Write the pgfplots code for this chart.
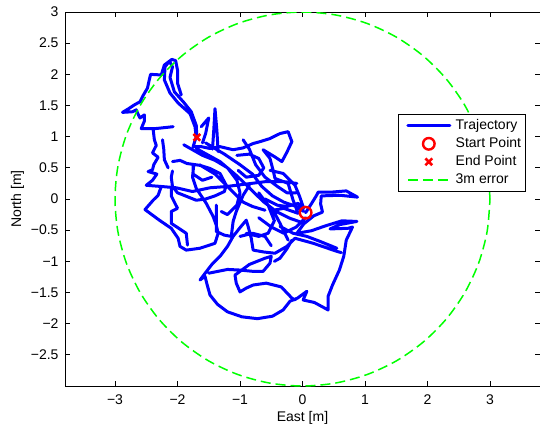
\documentclass[border=0pt]{standalone}
\usepackage{fontspec}
\setmainfont{Liberation Sans}
\usepackage{pgfplots}
\pgfplotsset{compat=1.18}
\definecolor{mblue}{RGB}{0,0,255}
\definecolor{mred}{RGB}{255,0,0}
\definecolor{mgreen}{RGB}{0,255,0}
\begin{document}
\begin{tikzpicture}
\begin{axis}[
  at={(0pt,0pt)}, anchor=south west,
  scale only axis, width=475pt, height=374pt,
  xmin=-3.8, xmax=3.8, ymin=-3, ymax=3,
  xtick={-3,-2,-1,0,1,2,3},
  xticklabels={−3,−2,−1,0,1,2,3},
  ytick={-2.5,-2,-1.5,-1,-0.5,0,0.5,1,1.5,2,2.5,3},
  yticklabels={−2.5,−2,−1.5,−1,−0.5,0,0.5,1,1.5,2,2.5,3},
  tick align=inside, tick pos=both,
  major tick length=5pt,
  every tick/.style={black, line width=0.8pt},
  axis line style={line width=0.8pt},
  tick label style={font=\fontsize{14}{17}\selectfont},
  xticklabel style={yshift=-5pt},
  yticklabel style={xshift=-3pt},
  xlabel={East [m]}, ylabel={North [m]},
  label style={font=\fontsize{14}{17}\selectfont},
  xlabel style={at={(axis description cs:0.5,-0.0936)}, anchor=base},
  ylabel style={at={(axis description cs:-0.0926,0.5)}, anchor=base},
  unbounded coords=jump,
  legend cell align=left,
  legend image code/.code={\path (0pt,0pt); \draw[mark repeat=2,mark phase=2,#1] plot coordinates {(4pt,0pt) (25pt,0pt) (46pt,0pt)};},
  legend style={at={(0.969,0.727)}, anchor=north east, draw=black, fill=white,
    inner xsep=4pt, inner ysep=5pt, font=\fontsize{14}{17}\selectfont, row sep=5pt,
    nodes={inner sep=0pt, text height=10pt, text depth=3pt},
    /tikz/every odd column/.append style={column sep=4.4pt}},
]
\addplot[mblue, line width=3pt, line join=round, line cap=round] coordinates {
(0.05,-0.22) (0.14,-0.08) (0.22,0.05) (0.25,0.11) (0.46,0.11) (0.70,0.13) (0.88,0.03) (0.60,0.06) (0.30,0.05) (0.29,-0.08) (0.32,-0.21) (0.18,-0.27) (0.02,-0.40) (-0.09,-0.55) (0.14,-0.51) (0.37,-0.43) (0.63,-0.35) (0.87,-0.36) (0.60,-0.41) (0.44,-0.48) (0.73,-0.47) (0.80,-0.45) (0.70,-0.66) (0.66,-0.92) (0.59,-1.14) (0.48,-1.38) (0.41,-1.56) (0.41,-1.78) (0.19,-1.66) (0.01,-1.62) (0.07,-1.48) (-0.08,-1.59) (-0.20,-1.64) (-0.31,-1.78) (-0.48,-1.88) (-0.72,-1.92) (-0.97,-1.89) (-1.20,-1.81) (-1.36,-1.69) (-1.48,-1.54) (-1.53,-1.36) (-1.56,-1.24) (-1.64,-1.30) (-1.55,-1.18) (-1.45,-1.05) (-1.32,-0.92) (-1.20,-0.76) (-1.11,-0.60) (-1.00,-0.46) (-0.90,-0.34) (-0.87,-0.44) (-0.82,-0.63) (-0.79,-0.82) (-0.62,-0.85) (-0.44,-0.87) (-0.25,-0.76) (-0.12,-0.63) (0.17,-0.71) (0.55,-0.84) (0.62,-0.86)
(nan,nan)
(-1.50,-1.19) (-1.20,-1.13) (-1.00,-1.14) (-0.80,-1.16) (-0.63,-1.16) (-0.52,-1.03) (-0.50,-0.92) (-0.60,-0.95) (-0.85,-1.05) (-1.08,-1.22) (-1.06,-1.35) (-1.00,-1.49) (-0.90,-1.43) (-0.79,-1.38) (-0.58,-1.35) (-0.34,-1.41) (-0.17,-1.59) (-0.12,-1.62)
(nan,nan)
(-1.38,-0.10) (-1.38,-0.30) (-1.38,-0.52) (-1.25,-0.58) (-1.14,-0.60) (-1.11,-0.36) (-1.06,-0.20) (-0.95,0.06) (-0.85,0.22)
(nan,nan)
(-2.07,1.16) (-2.35,1.13) (-2.58,1.13) (-2.53,1.25) (-2.53,1.35) (-2.60,1.30) (-2.63,1.36) (-2.66,1.43) (-2.72,1.40) (-2.88,1.39) (-2.78,1.45) (-2.69,1.51) (-2.60,1.56) (-2.55,1.66) (-2.48,1.78) (-2.45,1.92) (-2.43,2.00) (-2.26,1.99) (-2.21,2.15) (-2.09,2.24) (-2.03,2.22) (-2.00,2.07) (-2.00,1.86) (-1.94,1.67)
(nan,nan)
(-2.39,1.12) (-2.37,0.95) (-2.34,0.86) (-2.40,0.74) (-2.31,0.67) (-2.38,0.55) (-2.40,0.47) (-2.47,0.44) (-2.33,0.40) (-2.40,0.30) (-2.50,0.22) (-2.25,0.20) (-2.02,0.18) (-1.76,0.12) (-1.48,0.18) (-1.22,0.20) (-0.90,0.24) (-0.58,0.28) (-0.31,0.28) (-0.09,0.25)
(nan,nan)
(-2.26,0.20) (-2.31,0.06) (-2.39,-0.02) (-2.52,-0.17) (-2.29,-0.34) (-2.10,-0.47) (-1.99,-0.63) (-1.96,-0.76) (-1.86,-0.82) (-1.64,-0.79) (-1.40,-0.71) (-1.35,-0.55) (-1.38,-0.42) (-1.43,-0.28) (-1.54,-0.07) (-1.70,0.17) (-1.76,0.35) (-1.74,0.55)
(nan,nan)
(-2.10,0.20) (-2.10,0.05) (-2.00,-0.15) (-2.10,-0.20) (-2.10,-0.39) (-1.86,-0.55) (-1.84,-0.74)
(nan,nan)
(-2.24,0.95) (-2.22,0.80) (-2.21,0.63) (-2.15,0.50)
(nan,nan)
(-1.70,0.81) (-1.32,0.60) (-1.06,0.38) (-0.84,0.17) (-0.63,-0.04) (-0.42,-0.20) (-0.20,-0.31) (0.00,-0.38)
(nan,nan)
(-1.55,0.90) (-1.25,0.72) (-1.00,0.55) (-0.80,0.40) (-0.65,0.20) (-0.48,0.05) (-0.30,-0.05) (-0.10,-0.12) (0.02,-0.20)
(nan,nan)
(-1.65,0.55) (-1.40,0.40) (-1.15,0.15) (-0.95,-0.05) (-0.80,-0.12) (-0.60,-0.18)
(nan,nan)
(-2.08,0.60) (-1.96,0.62) (-1.85,0.57) (-1.64,0.54) (-1.48,0.49) (-1.32,0.41) (-1.22,0.22) (-1.25,0.12) (-1.40,0.05) (-1.55,0.00) (-1.70,-0.02) (-1.85,0.04) (-2.00,0.10) (-2.08,0.20) (-2.10,0.35) (-2.08,0.45)
(nan,nan)
(-1.35,0.76) (-1.37,1.10) (-1.40,1.45) (-1.42,1.10) (-1.44,0.80)
(nan,nan)
(-1.62,1.16) (-1.50,1.30) (-1.55,1.05) (-1.60,0.90)
(nan,nan)
(-1.05,0.70) (-0.85,0.72) (-0.70,0.65) (-0.62,0.50) (-0.70,0.38) (-0.90,0.35) (-1.03,0.46)
(nan,nan)
(-0.60,0.00) (-0.40,-0.10) (-0.25,-0.12) (-0.07,-0.07) (0.00,-0.15)
(nan,nan)
(-0.52,0.46) (-0.31,0.41) (-0.12,0.22) (-0.05,0.05) (0.02,-0.15)
(nan,nan)
(-0.36,-0.44) (-0.15,-0.55) (0.07,-0.60) (0.28,-0.68) (0.55,-0.79)
(nan,nan)
(-0.17,-0.66) (-0.25,-0.80) (-0.36,-0.95) (-0.45,-1.00)
(nan,nan)
(-1.90,0.87) (-1.60,0.70) (-1.40,0.62) (-1.20,0.50) (-1.05,0.30) (-1.00,0.10) (-1.05,-0.10) (-1.20,-0.25) (-1.30,-0.20)
(nan,nan)
(-0.95,0.95) (-0.85,0.80) (-0.75,0.55) (-0.60,0.35) (-0.40,0.20) (-0.25,0.10) (-0.10,0.10)
(nan,nan)
(-0.70,0.10) (-0.55,-0.10) (-0.45,-0.35) (-0.55,-0.55) (-0.70,-0.60) (-0.90,-0.55)
(nan,nan)
(-1.75,0.55) (-1.75,0.40) (-1.60,0.30) (-1.45,0.35)
(nan,nan)
(-0.70,-0.30) (-0.50,-0.45) (-0.30,-0.55) (-0.10,-0.45) (0.05,-0.30)
(nan,nan)
(-1.00,-0.60) (-0.80,-0.55) (-0.60,-0.60) (-0.50,-0.75)
(nan,nan)
(-0.23,-0.66) (-0.36,-0.39) (-0.47,-0.18) (-0.30,-0.15) (-0.07,-0.23) (-0.15,-0.02) (-0.23,0.25) (-0.44,0.33) (-0.47,0.46) (-0.52,0.65) (-0.63,0.79) (-0.45,0.68) (-0.33,0.60) (-0.25,0.75) (-0.17,0.92) (-0.23,1.08) (-0.36,1.05) (-0.52,0.97) (-0.68,0.92) (-0.79,0.89) (-0.95,0.82) (-1.11,0.79) (-1.32,0.84) (-1.48,0.81) (-1.62,0.84) (-1.75,0.84) (-1.70,1.00) (-1.72,1.16) (-1.80,1.37) (-1.99,1.54) (-2.12,1.70) (-2.21,1.91) (-2.20,2.12) (-2.13,2.21) (-2.08,2.12) (-2.12,1.95) (-2.05,1.72) (-1.90,1.55) (-1.78,1.40) (-1.70,1.18) (-1.69,0.99)
};
\addlegendentry{Trajectory}
\addplot[only marks, mark=o, mred, mark size=5.8pt, line width=2.4pt] coordinates {(0.05,-0.22)};
\addlegendentry{Start Point}
\addplot[only marks, mark=x, mred, mark size=4.8pt, line width=2.6pt] coordinates {(-1.69,0.99)};
\addlegendentry{End Point}
\addplot[mgreen, line width=1.5pt, dash pattern=on 10pt off 5pt, smooth] coordinates {
(3.000,0.000) (2.954,0.521) (2.819,1.026) (2.598,1.500) (2.298,1.928) (1.928,2.298) (1.500,2.598) (1.026,2.819) (0.521,2.954) (0.000,3.000)
(-0.521,2.954) (-1.026,2.819) (-1.500,2.598) (-1.928,2.298) (-2.298,1.928) (-2.598,1.500) (-2.819,1.026) (-2.954,0.521) (-3.000,0.000)
(-2.954,-0.521) (-2.819,-1.026) (-2.598,-1.500) (-2.298,-1.928) (-1.928,-2.298) (-1.500,-2.598) (-1.026,-2.819) (-0.521,-2.954) (0.000,-3.000)
(0.521,-2.954) (1.026,-2.819) (1.500,-2.598) (1.928,-2.298) (2.298,-1.928) (2.598,-1.500) (2.819,-1.026) (2.954,-0.521) (3.000,0.000)
};
\addlegendentry{3m error}
\end{axis}
\pgfresetboundingbox
\path (-65pt,-37pt) rectangle (475pt,386pt);
\end{tikzpicture}
\end{document}
